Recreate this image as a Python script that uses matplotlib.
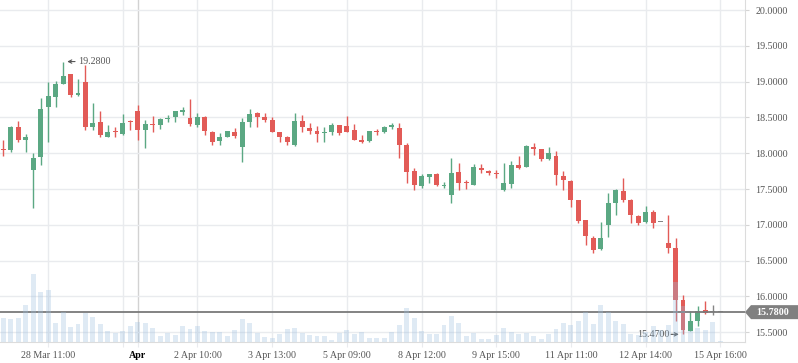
import matplotlib
matplotlib.use("Agg")
import matplotlib.pyplot as plt
from matplotlib.patches import Polygon
import numpy as np

# hourly OHLC
opens = [18.06, 18.04, 18.36, 18.19, 17.76, 17.95, 18.64, 18.79, 18.97, 19.10,
         18.82, 18.99, 18.36, 18.44, 18.23, 18.30, 18.27, 18.45, 18.59, 18.32,
         18.41, 18.40, 18.48, 18.50, 18.58, 18.49, 18.40, 18.50, 18.30, 18.17,
         18.23, 18.30, 18.08, 18.43, 18.56, 18.50, 18.46, 18.30, 18.23, 18.11,
         18.45, 18.35, 18.31, 18.28, 18.29, 18.39, 18.38, 18.32, 18.18, 18.17,
         18.30, 18.29, 18.36, 18.35, 18.11, 17.75, 17.54, 17.67, 17.71, 17.54,
         17.42, 17.74, 17.60, 17.56, 17.79, 17.75, 17.72, 17.48, 17.57, 17.84,
         17.81, 18.09, 18.06, 17.92, 17.96, 17.68, 17.61, 17.35, 17.07, 16.81,
         16.66, 17.00, 17.30, 17.47, 17.35, 17.12, 17.04, 17.18, 17.04, 16.75,
         16.68, 15.95, 15.52, 15.65, 15.81, 15.78, 15.78]
highs = [18.19, 18.38, 18.45, 18.27, 18.00, 18.77, 18.99, 19.01, 19.28, 19.11,
         19.03, 19.23, 18.70, 18.59, 18.39, 18.36, 18.55, 18.46, 18.68, 18.46,
         18.52, 18.49, 18.53, 18.59, 18.64, 18.76, 18.56, 18.52, 18.31, 18.28,
         18.31, 18.35, 18.49, 18.62, 18.57, 18.56, 18.50, 18.30, 18.24, 18.56,
         18.53, 18.42, 18.38, 18.37, 18.42, 18.40, 18.52, 18.41, 18.25, 18.31,
         18.34, 18.38, 18.42, 18.42, 18.14, 17.79, 17.71, 17.71, 17.72, 17.60,
         17.93, 17.86, 17.63, 17.85, 17.85, 17.77, 17.76, 17.86, 17.89, 17.96,
         18.11, 18.14, 18.06, 18.09, 18.03, 17.75, 17.62, 17.35, 17.07, 16.84,
         17.04, 17.44, 17.50, 17.66, 17.36, 17.14, 17.26, 17.20, 17.04, 17.13,
         16.82, 16.02, 15.79, 15.86, 15.94, 15.88, 15.78]
lows = [17.96, 18.01, 18.15, 18.01, 17.24, 17.83, 18.16, 18.64, 18.96, 18.79,
        18.80, 18.32, 18.32, 18.22, 18.22, 18.22, 18.26, 18.32, 18.18, 18.07,
        18.29, 18.34, 18.43, 18.44, 18.54, 18.38, 18.36, 18.25, 18.12, 18.11,
        18.22, 18.21, 17.88, 18.37, 18.36, 18.44, 18.29, 18.15, 18.12, 18.10,
        18.29, 18.27, 18.16, 18.16, 18.25, 18.25, 18.29, 18.18, 18.14, 18.15,
        18.26, 18.28, 18.34, 17.94, 17.58, 17.48, 17.52, 17.59, 17.54, 17.51,
        17.31, 17.48, 17.50, 17.55, 17.73, 17.70, 17.66, 17.47, 17.52, 17.78,
        17.81, 17.98, 17.89, 17.91, 17.55, 17.49, 17.25, 17.03, 16.72, 16.61,
        16.65, 16.83, 17.13, 17.32, 17.03, 17.00, 17.03, 16.96, 17.04, 16.61,
        15.66, 15.47, 15.51, 15.59, 15.76, 15.74, 15.78]
closes = [18.04, 18.37, 18.18, 18.23, 17.93, 18.62, 18.80, 18.97, 19.08, 18.82,
          18.84, 18.36, 18.42, 18.25, 18.30, 18.29, 18.42, 18.43, 18.32, 18.41,
          18.40, 18.48, 18.49, 18.59, 18.60, 18.41, 18.50, 18.31, 18.15, 18.23,
          18.31, 18.24, 18.43, 18.55, 18.50, 18.46, 18.30, 18.23, 18.16, 18.45,
          18.36, 18.31, 18.27, 18.29, 18.39, 18.28, 18.30, 18.19, 18.16, 18.31,
          18.29, 18.36, 18.39, 18.12, 17.74, 17.55, 17.68, 17.71, 17.55, 17.56,
          17.72, 17.59, 17.58, 17.81, 17.76, 17.73, 17.71, 17.58, 17.84, 17.79,
          18.10, 18.06, 17.92, 18.00, 17.69, 17.62, 17.35, 17.05, 16.85, 16.65,
          16.82, 17.31, 17.49, 17.35, 17.13, 17.03, 17.18, 17.03, 17.04, 16.68,
          15.95, 15.53, 15.66, 15.79, 15.77, 15.78, 15.78]
volumes = [24, 23, 24, 37, 68, 50, 52, 19, 30, 15,
           18, 29, 25, 18, 11, 9, 11, 16, 20, 19,
           14, 6, 9, 7, 16, 13, 16, 11, 10, 10,
           6, 12, 23, 19, 9, 5, 4, 8, 13, 14,
           9, 7, 6, 6, 2, 9, 12, 8, 10, 4,
           4, 4, 10, 17, 34, 24, 11, 8, 8, 17,
           26, 19, 6, 9, 3, 3, 7, 14, 10, 8,
           9, 6, 3, 8, 13, 19, 17, 21, 30, 18,
           37, 30, 21, 18, 8, 7, 10, 16, 12, 17,
           60, 36, 11, 14, 12, 20, 1]
tick_pos = [6, 16, 18, 26, 36, 46, 56, 66, 76, 86, 96]
tick_labels = ['28 Mar 11:00', '', 'Apr', '2 Apr 10:00', '3 Apr 13:00',
               '5 Apr 09:00', '8 Apr 12:00', '9 Apr 15:00', '11 Apr 11:00',
               '12 Apr 14:00', '15 Apr 16:00']
price_ticks = [15.5, 16.0, 16.5, 17.0, 17.5, 18.0, 18.5, 19.0, 19.5, 20.0]

plt.rcParams['font.family'] = ['Liberation Serif', 'DejaVu Serif']

UP, DOWN, FLAT = '#5ba883', '#e25b57', '#858585'
GRID = '#e9ebee'
TXT = '#555555'

o = np.array(opens); h = np.array(highs); l = np.array(lows); c = np.array(closes)
x = np.arange(len(o))
cols = np.where(c > o, UP, np.where(c < o, DOWN, FLAT))

fig = plt.figure(figsize=(7.98, 3.63), dpi=100)
ax = fig.add_axes([0, 21 / 363, 745 / 798, 342 / 363])
ax.set_xlim(-0.44, 99.3)
ax.set_ylim(15.363, 20.14)

ax.vlines(x, l, h, colors=cols, lw=1.0, zorder=3)
body = np.maximum(np.abs(c - o), 0.014)
ax.bar(x, body, bottom=np.minimum(o, c), width=0.66, color=cols, zorder=3)

last = closes[-1]
ax.axhline(last, color='#7a7a7a', lw=1.3, zorder=4)

# volume overlay
ax2 = ax.twinx()
ax2.bar(x, volumes, width=0.66, color='#9cbfdf', alpha=0.32, zorder=5)
ax2.set_ylim(0, 342)
ax2.axis('off')

# axes styling
ax.yaxis.tick_right()
ax.set_yticks(price_ticks, [f'{v:.4f}' for v in price_ticks])
ax.set_xticks(tick_pos, tick_labels)
ax.tick_params(axis='y', length=3, color='#d5d5d5', labelcolor=TXT,
               labelsize=7.2, pad=4.5)
ax.tick_params(axis='x', length=3.6, color=GRID, labelcolor=TXT,
               labelsize=7.2, pad=2.8)
lab = ax.get_xticklabels()[2]
lab.set_fontweight('bold')
lab.set_color('black')
ax.grid(color=GRID, lw=1.0, zorder=0)
ax.get_xgridlines()[2].set_color('#d2d2d2')
for s in ['top', 'left']:
    ax.spines[s].set_visible(False)
for s in ['right', 'bottom']:
    ax.spines[s].set_color('#dcdcdc')
ax.set_axisbelow(True)

# high / low markers
ih = int(np.argmax(h)); il = int(np.argmin(l))
ax.annotate(f'{h[ih]:.4f}', xy=(ih, h[ih]), xytext=(15, 0), textcoords='offset pixels',
            ha='left', va='center', fontsize=7.2, color=TXT, zorder=6)
ax.annotate('', xy=(ih, h[ih]), xytext=(12, 0), textcoords='offset pixels',
            arrowprops=dict(arrowstyle='->', color=TXT, lw=0.8, shrinkA=0, shrinkB=3,
                            mutation_scale=6))
ax.annotate(f'{l[il]:.4f}', xy=(il, l[il]), xytext=(-14, 0), textcoords='offset pixels',
            ha='right', va='center', fontsize=7.2, color=TXT, zorder=6)
ax.annotate('', xy=(il, l[il]), xytext=(-12, 0), textcoords='offset pixels',
            arrowprops=dict(arrowstyle='->', color=TXT, lw=0.8, shrinkA=0, shrinkB=3,
                            mutation_scale=6))

# last price tag on the right axis
ppu = ax.bbox.height / (ax.get_ylim()[1] - ax.get_ylim()[0])
pw = 1.0 / ax.bbox.width
hh = 7 / ppu
tag = Polygon([(1.0, last), (1 + 6 * pw, last + hh), (1 + 53 * pw, last + hh),
               (1 + 53 * pw, last - hh), (1 + 6 * pw, last - hh)],
              closed=True, transform=ax.get_yaxis_transform(), clip_on=False,
              facecolor='#808080', edgecolor='none', zorder=10)
ax.add_patch(tag)
ax.text(1 + 11 * pw, last, f'{last:.4f}', transform=ax.get_yaxis_transform(),
        ha='left', va='center', fontsize=7.2, color='white', fontweight='bold',
        clip_on=False, zorder=11)

fig.savefig('out.png', dpi=100)
